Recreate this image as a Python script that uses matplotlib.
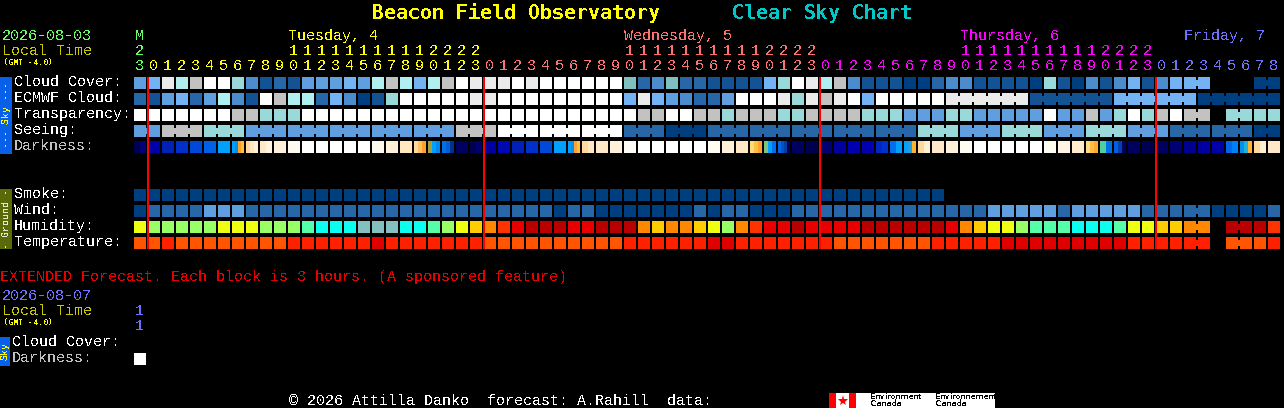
#!/usr/bin/env python

# import all necessary modules
import matplotlib
matplotlib.use("Agg")
import matplotlib.pyplot as plt

# the reference text is a bitmap font, so keep text crisp
plt.rcParams["text.antialiased"] = False
plt.rcParams["text.hinting"] = "native"
plt.rcParams["text.hinting_factor"] = 1

# forecast values, one per block, -1 means no forecast for that block
cloud_cover = [4, 5, 10, 8, 9, 11, 11, 7, 3, 1,
               2, 1, 4, 4, 4, 5, 4, 8, 9, 8,
               5, 8, 9, 11, 10, 10, 10, 11, 10, 11,
               11, 11, 11, 11, 11, 6, 2, 3, 6, 2,
               2, 1, 1, 1, 1, 5, 7, 11, 10, 8,
               9, 3, 1, 1, 1, 0, 0, 2, 3, 3,
               1, 1, 1, 1, 0, 7, 1, 0, 3, 1,
               3, 5, 1, 3, 5, 5, 5, -1, -1, -1,
               0, 0]
ecmwf_cloud = [2, 1, 4, 5, 2, 4, 8, 3, 1, 11,
               9, 8, 8, 2, 5, 3, 0, 1, 7, 11,
               11, 11, 11, 11, 10, 10, 11, 11, 11, 11,
               11, 11, 11, 11, 11, 5, 10, 5, 4, 3,
               2, 2, 4, 11, 11, 11, 10, 7, 10, 9,
               10, 11, 5, 11, 11, 11, 11, 11, 10, 10,
               10, 10, 10, 10, 1, 1, 1, 1, 1, 1,
               5, 5, 5, 5, 5, 5, 0, 0, 0, 0,
               0, 0]
transparency = [11, 11, 11, 11, 11, 11, 11, 9, 9, 7,
                7, 7, 11, 11, 11, 11, 11, 11, 11, 11,
                11, 11, 11, 11, 11, 11, 11, 11, 11, 11,
                11, 11, 11, 11, 11, 11, 9, 9, 11, 11,
                9, 9, 7, 9, 9, 9, 7, 7, 9, 9,
                9, 9, 7, 7, 7, 4, 4, 4, 7, 7,
                4, 4, 4, 4, 4, 11, 4, 4, 9, 4,
                7, 11, 7, 9, 11, 9, 9, -1, 7, 7,
                7, 7]
seeing = [4, 4, 9, 9, 9, 7, 7, 7, 4, 4,
          4, 4, 4, 4, 4, 4, 4, 4, 4, 4,
          4, 4, 4, 9, 9, 9, 11, 11, 11, 11,
          11, 11, 11, 11, 11, 2, 2, 2, 0, 0,
          0, 2, 2, 2, 2, 2, 2, 2, 2, 2,
          2, 2, 2, 2, 2, 2, 7, 7, 7, 4,
          4, 4, 7, 7, 7, 4, 4, 4, 7, 7,
          7, 4, 4, 4, 2, 2, 2, 2, 2, 2,
          0, 0]
smoke = [0, 0, 0, 0, 0, 0, 0, 0, 0, 0,
         0, 0, 0, 0, 0, 0, 0, 0, 0, 0,
         0, 0, 0, 0, 0, 0, 0, 0, 0, 0,
         0, 0, 0, 0, 0, 0, 0, 0, 0, 0,
         0, 0, 0, 0, 0, 0, 0, 0, 0, 0,
         0, 0, 0, 0, 0, 0, 0, 0]
wind = [0, 2, 2, 2, 2, 4, 4, 4, 2, 2,
        2, 2, 2, 2, 2, 2, 2, 2, 2, 2,
        2, 2, 2, 2, 2, 2, 2, 2, 2, 2,
        0, 2, 2, 0, 0, 0, 0, 0, 0, 0,
        2, 0, 2, 2, 0, 0, 0, 2, 2, 2,
        2, 2, 2, 2, 2, 2, 2, 2, 2, 2,
        2, 4, 4, 4, 4, 4, 2, 4, 4, 4,
        4, 4, 2, 2, 2, 2, 2, 0, 0, 0,
        0, 2]
humidity = [4, 3, 3, 3, 3, 3, 4, 4, 4, 3,
            3, 3, 2, 1, 1, 1, 0, 0, 0, 1,
            1, 2, 3, 4, 5, 6, 7, 8, 9, 9,
            9, 8, 8, 9, 9, 9, 6, 5, 6, 6,
            5, 4, 3, 6, 7, 8, 8, 9, 8, 8,
            8, 8, 9, 9, 9, 9, 9, 9, 8, 6,
            5, 4, 4, 3, 2, 2, 2, 1, 1, 1,
            2, 4, 4, 5, 5, 6, 6, -1, 9, 9,
            9, 7]
temperature = [0, 0, 1, 0, 0, 0, 0, 0, 0, 0,
               0, 1, 1, 1, 1, 1, 1, 2, 1, 1,
               1, 1, 1, 1, 1, 0, 0, 0, 0, 0,
               0, 0, 0, 0, 0, 1, 1, 1, 1, 1,
               1, 2, 2, 1, 1, 1, 1, 1, 1, 1,
               0, 0, 0, 0, 0, 0, 0, 1, 1, 1,
               1, 1, 2, 2, 2, 2, 2, 2, 2, 2,
               2, 1, 1, 1, 1, 1, 1, -1, 0, 0,
               0, 1]

# darkness blocks are shaded, so each one is a list of stripes left to right
darkness = [["#000050", "#000078"], ["#0000A8"], ["#0020B8"], ["#0030C8"], ["#0048D8"],
            ["#0060E8"], ["#00A0FF"], ["#00A0FF", "#0090F0", "#FFA020", "#FFC040"],
            ["#FFD8A0", "#FFE8C0", "#FFF0D8"], ["#FFE8C8", "#FFF4E0"],
            ["#FFF0DC"], ["#FFFAF0"], ["#FFFFFF"], ["#FFFFFF"], ["#FFFFFF"], ["#FFFFFF"],
            ["#FFFFFF"], ["#FFF8F0"], ["#FFF0D8"], ["#FFE8C0"],
            ["#FFD8A0", "#FFC060", "#FFA030"], ["#A0A040", "#00A0FF", "#0088F0"],
            ["#0070E8", "#0060D0", "#003090"], ["#000060"], ["#000050", "#000070"],
            ["#0000A0"], ["#0008B0"], ["#0020B8"], ["#0030C8"], ["#0048D8"],
            ["#00A0FF"], ["#00A0FF", "#0090F0", "#FFA030", "#FFC040"],
            ["#FFD8A0", "#FFE8C0"], ["#FFE8C8"], ["#FFF0D8"], ["#FFFCF8"],
            ["#FFFFFF"], ["#FFFFFF"], ["#FFFFFF"], ["#FFFFFF"], ["#FFFFFF"],
            ["#FFFCF4"], ["#FFF0D8"], ["#FFE8C8"], ["#FFD880", "#FFC040", "#FFA030"],
            ["#80C080", "#00A0FF", "#0070F0"], ["#0068E0", "#0050D0", "#0040A0", "#000060"],
            ["#000060"], ["#000050"], ["#000070"], ["#0000A0"], ["#0000B0"],
            ["#0000B0"], ["#0028C0", "#0030D0"], ["#0070F0", "#00A0FF"],
            ["#00A0FF", "#20A0E0", "#FFB030"], ["#FFD8A0", "#FFF0D0"], ["#FFE8C8"],
            ["#FFF0D8"], ["#FFFCF4"], ["#FFFFFF"], ["#FFFFFF"], ["#FFFFFF"], ["#FFFFFF"],
            ["#FFFFFF"], ["#FFFCF4"], ["#FFF4E4"], ["#FFECCC"],
            ["#FFD888", "#FFC040", "#FFA838"], ["#50D0A0", "#0070E8"],
            ["#0060E0", "#0040B0", "#000060"], ["#000060"], ["#000050"], ["#000060"],
            ["#000070"], ["#000090"], ["#0000A0"], ["#0000A8"], ["#0068E8", "#0080F8"],
            ["#0090F0", "#20B0E0", "#FFB030"], ["#FFD8A0", "#FFF0D0"], ["#FFE8C8"]]
extended_darkness = [["#FFFFFF"]]

# runs of blocks that belong to one longer forecast step
cloud_runs = [(75, 76), (80, 81)]
ecmwf_runs = [(58, 63), (64, 69), (70, 75), (76, 81)]
transparency_runs = [(75, 76), (78, 79)]
seeing_runs = [(0, 1), (2, 4), (5, 7), (8, 10), (11, 13), (14, 16), (17, 19), (20, 22),
               (23, 25), (26, 28), (29, 31), (32, 34), (35, 37), (38, 40), (41, 43),
               (44, 46), (47, 49), (50, 52), (53, 55), (56, 58), (59, 61), (62, 64),
               (65, 67), (68, 70), (71, 73), (74, 76), (77, 79), (80, 81)]
wind_runs = [(75, 76)]
humidity_runs = [(75, 76), (78, 79)]
temperature_runs = [(75, 76), (78, 79)]

# tick labels
hour_ones = list("3") + list("012345678901234567890123") * 3 + list("012345678")
day_starts = [1, 25, 49, 73]
day_names = ["Tuesday, 4", "Wednesday, 5", "Thursday, 6", "Friday, 7"]
day_label_x = [288, 624, 960, 1184]
day_colors = ["#FFFF00", "#FF7070", "#FF00FF", "#7070FF"]

# colours for each scale
cloud_colors = ["#003F7F", "#135393", "#2767A7", "#4C8CCC", "#5F9FDF", "#73B3F3",
                "#7FBFBF", "#99D9D9", "#AFEFEF", "#C2C2C2", "#EBEBEB", "#FFFFFF"]
humidity_colors = ["#84C0C0", "#0CFFEE", "#55FFAA", "#99FF66", "#EEFF11",
                   "#FFCC00", "#FF8800", "#FF3300", "#E80000", "#B80000"]
temperature_colors = ["#FF5500", "#FF2000", "#E00000"]

# block grid, everything is in pixels of the final picture
grid_left = 134
cell_step = 14
cell_size = 12
mono = "Liberation Mono"
text_size = 10.8
green = "#66FF66"
olive = "#C8C800"


def draw_row(ax, top, values, palette, runs=()):
    '''Draws one row of blocks, and a short bridge across the gap for each run of equal blocks.'''
    for col, value in enumerate(values):
        if value < 0:
            continue
        ax.bar(grid_left + col * cell_step, cell_size, width=cell_size, bottom=top, align="edge",
               color=palette[value], linewidth=0, antialiased=False, zorder=2)
    for first, last in runs:
        for col in range(first, last):
            if values[col] == values[col + 1] and values[col] >= 0:
                ax.bar(grid_left + col * cell_step + cell_size, cell_size / 2, width=cell_step - cell_size,
                       bottom=top + cell_size / 4, align="edge", color=palette[values[col]],
                       linewidth=0, antialiased=False, zorder=2)


def draw_shaded_row(ax, top, cells):
    '''Draws a row where every block is a set of vertical stripes.'''
    for col, stripes in enumerate(cells):
        stripe_w = cell_size / len(stripes)
        for i, color in enumerate(stripes):
            ax.bar(grid_left + col * cell_step + i * stripe_w, cell_size, width=stripe_w, bottom=top,
                   align="edge", color=color, linewidth=0, antialiased=False, zorder=2)


def label(ax, x, y, text, color="#FFFFFF", size=text_size, family=mono, **kwargs):
    ax.text(x, y, text, color=color, fontsize=size, family=family, va="baseline", **kwargs)


fig = plt.figure(figsize=(12.84, 4.08), dpi=100, facecolor="black")
ax = fig.add_axes([0, 0, 1, 1])
ax.set_xlim(0, 1284)
ax.set_ylim(408, 0)
ax.axis("off")

# title
label(ax, 372, 19, "Beacon Field Observatory", "#FFFF00", 14.35, "DejaVu Sans Mono", fontweight="bold")
label(ax, 732, 19, "Clear Sky Chart", "#00C8C8", 14.35, "DejaVu Sans Mono", fontweight="bold")

# header on the left
label(ax, 2, 40, "2026-08-03", green)
label(ax, 2, 55, "Local Time", olive)
label(ax, 3, 65, "(GMT -4.0)", "#FFFF00", 5.6, "DejaVu Sans Mono", fontweight="bold")

# hour labels, the column before the first midnight is in green
for col, text in enumerate(hour_ones):
    color = green
    for start, day_color in zip(day_starts, day_colors):
        if col >= start:
            color = day_color
    label(ax, grid_left + col * cell_step + 5.5, 70, text, color, ha="center")
    hour = (col - 1) % 24
    if hour >= 10 and col >= 1:
        label(ax, grid_left + col * cell_step + 5.5, 55, str(hour // 10), color, ha="center")
label(ax, grid_left + 5.5, 40, "M", green, ha="center")
label(ax, grid_left + 5.5, 55, "2", green, ha="center")
for name, x, color in zip(day_names, day_label_x, day_colors):
    label(ax, x, 40, name, color)

# row labels and blocks
sky_rows = [(77, "Cloud Cover:", cloud_cover, cloud_runs),
            (93, "ECMWF Cloud:", ecmwf_cloud, ecmwf_runs),
            (109, "Transparency:", transparency, transparency_runs),
            (125, "Seeing:", seeing, seeing_runs)]
for top, name, values, runs in sky_rows:
    label(ax, 14, top + 9, name)
    draw_row(ax, top, values, cloud_colors, runs)
label(ax, 14, 150, "Darkness:", "#C0C0C0")
draw_shaded_row(ax, 141, darkness)

label(ax, 14, 198, "Smoke:")
draw_row(ax, 189, smoke, cloud_colors)
label(ax, 14, 214, "Wind:")
draw_row(ax, 205, wind, cloud_colors, wind_runs)
label(ax, 14, 230, "Humidity:")
draw_row(ax, 221, humidity, humidity_colors, humidity_runs)
label(ax, 14, 246, "Temperature:")
draw_row(ax, 237, temperature, temperature_colors, temperature_runs)

# midnight lines
for start in day_starts:
    ax.bar(grid_left + start * cell_step - 1, 172, width=2, bottom=77, align="edge",
           color="#FF0000", linewidth=0, antialiased=False, zorder=3)

# side bars
ax.bar(0, 77, width=12, bottom=77, align="edge", color="#0860E8", linewidth=0, antialiased=False)
ax.text(6, 115.5, "--- Sky ---", color="#FFFF00", fontsize=7.2, family=mono, rotation=90,
        ha="center", va="center")
ax.bar(0, 60, width=12, bottom=189, align="edge", color="#5A6A08", linewidth=0, antialiased=False)
ax.text(6, 219, "- Ground -", color="#E8E8D0", fontsize=7.2, family=mono, rotation=90,
        ha="center", va="center")

# extended forecast
label(ax, 0, 281, "EXTENDED Forecast. Each block is 3 hours. (A sponsored feature)", "#E80000")
label(ax, 2, 300, "2026-08-07", "#7070FF")
label(ax, 2, 315, "Local Time", olive)
label(ax, 3, 325, "(GMT -4.0)", "#FFFF00", 5.6, "DejaVu Sans Mono", fontweight="bold")
label(ax, grid_left + 5.5, 315, "1", "#7070FF", ha="center")
label(ax, grid_left + 5.5, 330, "1", "#7070FF", ha="center")
label(ax, 12, 346, "Cloud Cover:")
label(ax, 12, 362, "Darkness:", "#C0C0C0")
draw_shaded_row(ax, 353, extended_darkness)
ax.bar(0, 29, width=10, bottom=337, align="edge", color="#0860E8", linewidth=0, antialiased=False)
ax.text(5, 351.5, "Sky", color="#FFFF00", fontsize=7.2, family=mono, rotation=90,
        ha="center", va="center")

# footer and logo
label(ax, 289, 405, "\u00a9 2026 Attilla Danko  forecast: A.Rahill  data:")
ax.bar(829, 15, width=166, bottom=393, align="edge", color="#FFFFFF", linewidth=0, antialiased=False)
ax.bar(829, 15, width=7, bottom=393, align="edge", color="#FF0000", linewidth=0, antialiased=False)
ax.bar(849, 15, width=7, bottom=393, align="edge", color="#FF0000", linewidth=0, antialiased=False)
ax.plot([842.5], [400.5], marker="*", markersize=8, color="#FF0000", markeredgewidth=0)
for x, top_word in [(870, "Environment"), (935, "Environnement")]:
    ax.text(x, 399, top_word, color="black", fontsize=5.6, family="DejaVu Sans", va="baseline")
    ax.text(x, 406, "Canada", color="black", fontsize=5.6, family="DejaVu Sans", va="baseline")

plt.savefig("out.png", dpi=100, facecolor="black")
